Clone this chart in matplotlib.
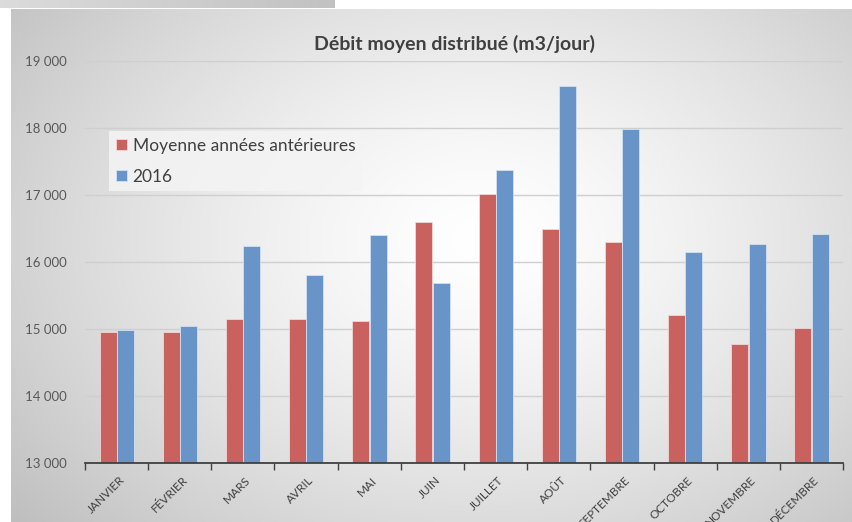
"""
Débit moyen distribué (m3/jour) - barres groupées mensuelles
"""

import numpy as np
import matplotlib
matplotlib.use("Agg")
import matplotlib.pyplot as plt
from matplotlib.ticker import FuncFormatter, FixedLocator
from matplotlib.transforms import ScaledTranslation

# ---------------------------
# Données
# ---------------------------
mois = ["JANVIER", "FÉVRIER", "MARS", "AVRIL", "MAI", "JUIN",
        "JUILLET", "AOÛT", "SEPTEMBRE", "OCTOBRE", "NOVEMBRE", "DÉCEMBRE"]
moyenne_anterieure = [14965, 14965, 15160, 15160, 15130, 16605,
                      17020, 16500, 16305, 15215, 14780, 15015]
annee_2016 = [14995, 15055, 16240, 15805, 16405, 15690,
              17375, 18625, 17985, 16150, 16275, 16420]

titre = "Débit moyen distribué (m3/jour)"
label_moy = "Moyenne années antérieures"
label_2016 = "2016"

ROUGE = "#c9625f"
BLEU = "#6894c8"

plt.rcParams["font.family"] = ["Lato", "DejaVu Sans"]

W, H = 852, 522
fig = plt.figure(figsize=(W / 100, H / 100), dpi=100)
fig.patch.set_facecolor("white")

# fond du graphique : dégradé radial (clair au centre, gris sur les bords)
bg = fig.add_axes([11 / W, 0, (W - 11) / W, (H - 9) / H], zorder=0)
gx, gy = np.meshgrid(np.linspace(0, 1, 400), np.linspace(0, 1, 300))
r = np.sqrt(((gx - 0.56) / 0.72) ** 2 + ((gy - 0.45) / 0.85) ** 2)
shade = 1.0 - 0.25 * np.clip(r, 0, 1.2) ** 1.4
bg.imshow(np.dstack([shade] * 3), aspect="auto", extent=[0, 1, 1, 0])
bg.set_axis_off()

# petite bande grise en haut à gauche
strip = fig.add_axes([0, (H - 8) / H, 335 / W, 8 / H], zorder=0)
sx = np.linspace(0.86, 0.76, 200)[None, :]
strip.imshow(np.dstack([np.repeat(sx, 5, axis=0)] * 3), aspect="auto")
strip.set_axis_off()

# zone de tracé
ax = fig.add_axes([85 / W, (H - 463.3) / H, 758 / W, 402 / H], zorder=2)
ax.patch.set_alpha(0)

x = np.arange(len(mois))
larg = 0.27
ax.bar(x - 0.135, moyenne_anterieure, width=larg, color=ROUGE,
       edgecolor="#f3d6d5", linewidth=0.6, label=label_moy, zorder=3)
ax.bar(x + 0.14, annee_2016, width=larg, color=BLEU,
       edgecolor="#d2e1f2", linewidth=0.6, label=label_2016, zorder=3)

ax.set_xlim(-0.5, len(mois) - 0.5)
ax.set_ylim(13000, 19000)
ax.set_yticks(np.arange(13000, 19001, 1000))
ax.yaxis.set_major_formatter(FuncFormatter(lambda v, p: f"{int(v):,}".replace(",", " ")))
ax.tick_params(axis="y", length=0, pad=13, labelsize=9.5, labelcolor="#595959")
ax.grid(axis="y", color="#cfcfcf", linewidth=1.0, zorder=1)

ax.set_xticks(x)
ax.set_xticklabels(mois, rotation=45, ha="right", rotation_mode="anchor",
                   fontsize=8.5, color="#404040")
ax.tick_params(axis="x", which="major", length=0, pad=8)
ax.xaxis.set_minor_locator(FixedLocator(np.arange(-0.5, len(mois), 1.0)))
ax.tick_params(axis="x", which="minor", length=5, width=1.0, color="#404040")
for lab in ax.get_xticklabels():
    lab.set_transform(lab.get_transform() + ScaledTranslation(0.02, 0, fig.dpi_scale_trans))

for s in ["top", "right", "left"]:
    ax.spines[s].set_visible(False)
ax.spines["bottom"].set_color("#404040")
ax.spines["bottom"].set_linewidth(1.3)
ax.spines["bottom"].set_zorder(4)

leg = ax.legend(loc="upper left", bbox_to_anchor=(0.032, 0.827), frameon=True,
                fancybox=False, facecolor="#f4f4f4", edgecolor="none",
                framealpha=0.85, fontsize=12.5, handlelength=0.6, handleheight=0.6,
                handletextpad=0.35, labelspacing=0.85, borderpad=0.4,
                borderaxespad=0, labelcolor="#404040")

fig.text(455 / W, 1 - 44 / H, titre, ha="center", va="center",
         fontsize=14, fontweight="bold", color="#404040")

fig.savefig("out.png", dpi=100)
